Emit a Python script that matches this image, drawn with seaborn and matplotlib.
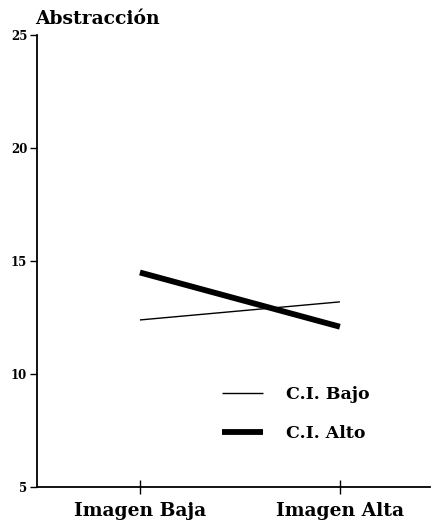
import numpy as np
import pandas as pd
import matplotlib
matplotlib.use('Agg')
import matplotlib.pyplot as plt
import seaborn as sns

CONDITIONS = ['Imagen Baja', 'Imagen Alta']
GROUPS = ['C.I. Bajo', 'C.I. Alto']
CI_BAJO = [12.4, 13.2]
CI_ALTO = [14.5, 12.1]
Y_TICKS = [5, 10, 15, 20, 25]

df = pd.DataFrame({
    'imagen': CONDITIONS * 2,
    'x': [0, 1, 0, 1],
    'grupo': [GROUPS[0]] * 2 + [GROUPS[1]] * 2,
    'abstraccion': CI_BAJO + CI_ALTO,
})

sns.set_style('white')
plt.rcParams['font.family'] = ['DejaVu Serif']
plt.rcParams['text.color'] = 'black'
plt.rcParams['lines.solid_capstyle'] = 'butt'

fig = plt.figure(figsize=(4.45, 5.25), dpi=100)
ax = fig.add_axes([0.083, 0.072, 0.883, 0.861])

sns.lineplot(
    data=df, x='x', y='abstraccion', hue='grupo', size='grupo',
    palette={GROUPS[0]: 'black', GROUPS[1]: 'black'},
    sizes={GROUPS[0]: 1.0, GROUPS[1]: 4.2},
    ax=ax, legend=True,
)

ax.set_xlim(-0.515, 1.45)
ax.set_ylim(5, 25)
ax.set_xticks([0, 1])
ax.set_xticklabels(CONDITIONS, fontsize=13.5, fontweight='bold', color='black')
ax.set_yticks(Y_TICKS)
ax.set_yticklabels([str(t) for t in Y_TICKS], fontsize=8.5, fontweight='bold', color='black')
ax.set_xlabel('')
ax.set_ylabel('')

for s in ['top', 'right']:
    ax.spines[s].set_visible(False)
for s in ['left', 'bottom']:
    ax.spines[s].set_color('black')
    ax.spines[s].set_linewidth(1.3)

ax.tick_params(axis='y', direction='out', length=5, width=1, colors='black', pad=2, left=True)
ax.tick_params(axis='x', direction='inout', length=10, width=1, colors='black', pad=6, bottom=True)

handles, labels = ax.get_legend_handles_labels()
leg = ax.legend(handles, labels, loc='lower left', bbox_to_anchor=(0.43, 0.065),
                frameon=False, prop={'size': 12.5, 'weight': 'bold'},
                handlelength=2.4, labelspacing=1.25, handletextpad=1.3)
for h in leg.get_lines():
    h.set_solid_capstyle('butt')

fig.text(0.078, 0.946, 'Abstracción', fontsize=13.5, fontweight='bold', ha='left', va='bottom')

fig.savefig('out.png', dpi=100, facecolor='white')
